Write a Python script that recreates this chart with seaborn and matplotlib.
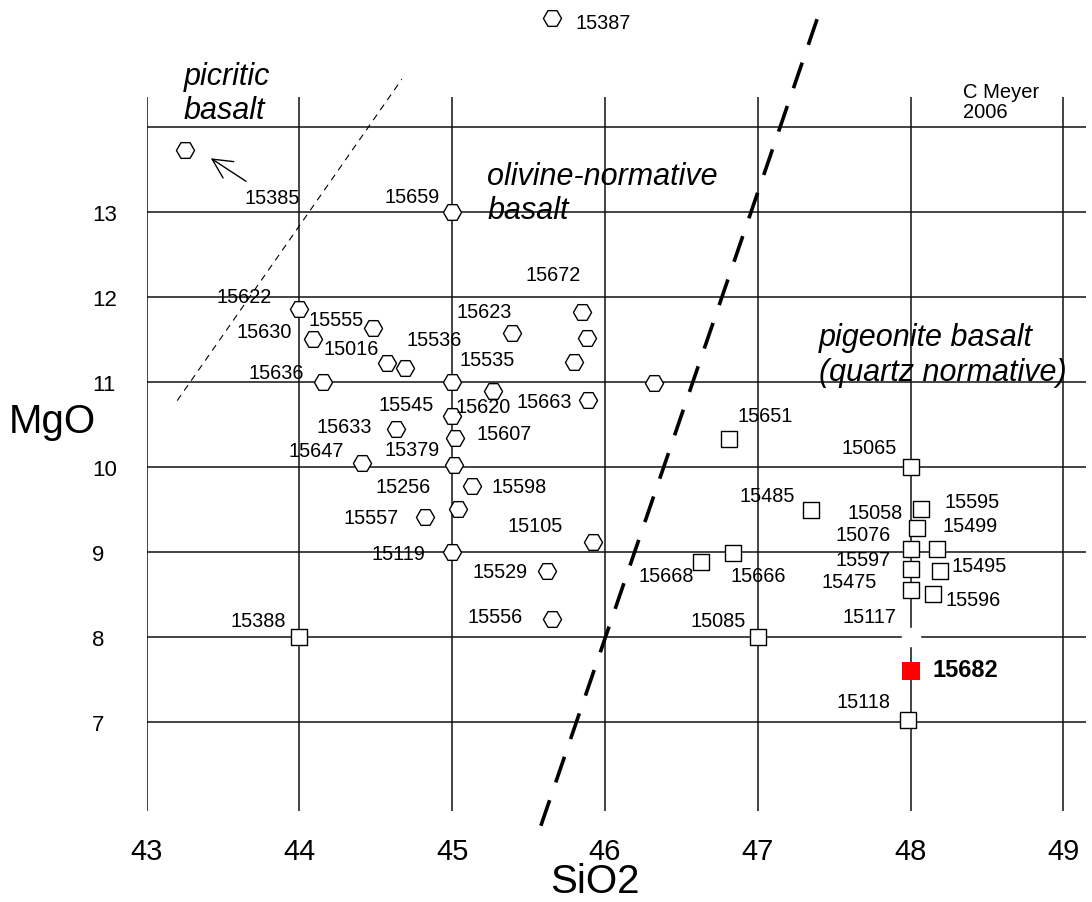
import numpy as np
import pandas as pd
import matplotlib
matplotlib.use("Agg")
import matplotlib.pyplot as plt
import seaborn as sns

sns.set_theme(style="white")
plt.rcParams['font.family'] = ['Liberation Sans', 'DejaVu Sans']
plt.rcParams['text.color'] = 'black'
plt.rcParams['axes.labelcolor'] = 'black'

# olivine-normative samples (open hexagons)
olv_x = [43.25, 45.65, 45.0, 44.0, 44.48, 44.09, 44.57, 44.69, 44.155, 45.0,
         45.85, 45.39, 45.88, 45.80, 46.32, 45.27, 45.89, 45.0, 45.015, 45.01,
         44.63, 44.41, 45.13, 45.04, 44.82, 45.92, 45.0, 45.62, 45.65]
olv_y = [13.73, 15.28, 13.0, 11.86, 11.64, 11.50, 11.22, 11.16, 11.0, 11.0,
         11.82, 11.57, 11.52, 11.23, 10.99, 10.89, 10.79, 10.60, 10.34, 10.02,
         10.45, 10.05, 9.78, 9.51, 9.41, 9.12, 9.0, 8.78, 8.21]

# pigeonite (quartz normative) samples (open squares)
pig_x = [44.0, 46.81, 48.0, 47.35, 48.065, 48.045, 48.0, 48.17, 48.0, 48.19,
         48.0, 48.145, 47.0, 46.84, 46.63, 47.98]
pig_y = [8.0, 10.33, 10.0, 9.49, 9.50, 9.28, 9.03, 9.03, 8.80, 8.78,
         8.55, 8.51, 8.0, 8.99, 8.88, 7.03]

# highlighted sample
hl_x, hl_y, hl_name = [48.0], [7.60], "15682"

# sample numbers
lbl_text = ["15387", "15385", "15659", "15622", "15555", "15630", "15016", "15536",
            "15636", "15672", "15623", "15535", "15545", "15620", "15663", "15607",
            "15633", "15647", "15379", "15256", "15598", "15557", "15105", "15119",
            "15529", "15556", "15388", "15651", "15065", "15485", "15058", "15595",
            "15499", "15076", "15597", "15495", "15475", "15596", "15117", "15085",
            "15666", "15668", "15118"]
lbl_x = [45.99, 43.82, 44.74, 43.64, 44.24, 43.77, 44.34, 44.88,
         43.85, 45.66, 45.21, 45.23, 44.70, 45.20, 45.60, 45.34,
         44.29, 44.11, 44.74, 44.68, 45.44, 44.47, 45.54, 44.65,
         45.31, 45.28, 43.73, 47.05, 47.73, 47.06, 47.77, 48.40,
         48.39, 47.69, 47.69, 48.45, 47.60, 48.41, 47.73, 46.74,
         47.00, 46.40, 47.69]
lbl_y = [15.23, 13.17, 13.18, 12.0, 11.74, 11.59, 11.39, 11.50,
         11.11, 12.26, 11.83, 11.26, 10.74, 10.71, 10.77, 10.39,
         10.48, 10.19, 10.21, 9.77, 9.77, 9.41, 9.31, 8.98,
         8.77, 8.24, 8.20, 10.61, 10.23, 9.66, 9.47, 9.59,
         9.31, 9.20, 8.91, 8.84, 8.65, 8.44, 8.24, 8.20,
         8.72, 8.72, 7.24]

# field boundaries
picritic_x, picritic_y = [43.20, 44.67], [10.78, 14.56]
quartz_x, quartz_y = [45.58, 47.40], [5.78, 15.33]

x_ticks = [43, 44, 45, 46, 47, 48, 49]
y_ticks = [7, 8, 9, 10, 11, 12, 13, 14]
y_ticklabels = ["7", "8", "9", "10", "11", "12", "13", ""]

fig = plt.figure(figsize=(10.92, 9.03), dpi=100)
ax = fig.add_axes([0.1343, 0.1004, 0.8605, 0.7910])
ax.set_xlim(43, 49.15)
ax.set_ylim(5.95, 14.35)
for s in ax.spines.values():
    s.set_visible(False)
ax.set_xticks(x_ticks)
ax.set_xticklabels([str(t) for t in x_ticks])
ax.set_yticks(y_ticks)
ax.set_yticklabels(y_ticklabels)
ax.grid(True, color="#111111", lw=1.1)
ax.set_axisbelow(True)
ax.tick_params(axis="x", length=0, pad=18.4, labelsize=21, colors="black")
ax.tick_params(axis="y", length=0, pad=39.4, labelsize=16, colors="black")
for t in ax.get_yticklabels():
    t.set_horizontalalignment("left")

# gap in the grid at 48 / 8
ax.plot([48.0], [8.0], marker="s", ms=13, color="white", mec="white", zorder=3)

ax.plot(picritic_x, picritic_y, color="black", lw=0.8, ls=(0, (6, 5)),
        clip_on=False, zorder=2)
ax.plot(quartz_x, quartz_y, color="black", lw=2.6, ls=(0, (7.5, 5.2)),
        clip_on=False, zorder=2, solid_capstyle="butt", dash_capstyle="butt")

olv = pd.DataFrame({"SiO2": olv_x, "MgO": olv_y})
pig = pd.DataFrame({"SiO2": pig_x, "MgO": pig_y})
sns.scatterplot(data=olv, x="SiO2", y="MgO", marker="H", s=170, color="white",
                edgecolor="black", linewidth=1.0, ax=ax, zorder=4, clip_on=False)
sns.scatterplot(data=pig, x="SiO2", y="MgO", marker="s", s=136, color="white",
                edgecolor="black", linewidth=1.0, ax=ax, zorder=4)
sns.scatterplot(x=hl_x, y=hl_y, marker="s", s=151, color="red",
                edgecolor="red", linewidth=0, ax=ax, zorder=5)

for t, x, y in zip(lbl_text, lbl_x, lbl_y):
    ax.text(x, y, t, ha="center", va="center", fontsize=14.3, zorder=6,
            clip_on=False)
ax.text(48.145, 7.62, hl_name, ha="left", va="center", fontsize=17,
        fontweight="bold", zorder=6)

ax.annotate("", xy=(43.42, 13.63), xytext=(43.65, 13.36),
            arrowprops=dict(arrowstyle="->,head_length=0.7,head_width=0.35",
                            lw=1.0, color="black", shrinkA=0, shrinkB=0,
                            mutation_scale=20))

ax.text(43.24, 14.4, "picritic\nbasalt", ha="left", va="center", fontsize=22,
        fontstyle="italic", linespacing=1.2)
ax.text(45.23, 13.22, "olivine-normative\nbasalt", ha="left", va="center",
        fontsize=22, fontstyle="italic", linespacing=1.2)
ax.text(47.40, 11.32, "pigeonite basalt\n(quartz normative)", ha="left",
        va="center", fontsize=22, fontstyle="italic", linespacing=1.2)
ax.text(48.34, 14.3, "C Meyer\n2006", ha="left", va="center", fontsize=14.5,
        linespacing=1.1)

ax.set_xlabel("SiO2", fontsize=29, va="center")
ax.xaxis.set_label_coords(0.477, -0.0976)
ax.set_ylabel("MgO", fontsize=29, rotation=0, ha="left", va="center")
ax.yaxis.set_label_coords(-0.1465, 0.5464)

fig.savefig("out.png", dpi=100)
